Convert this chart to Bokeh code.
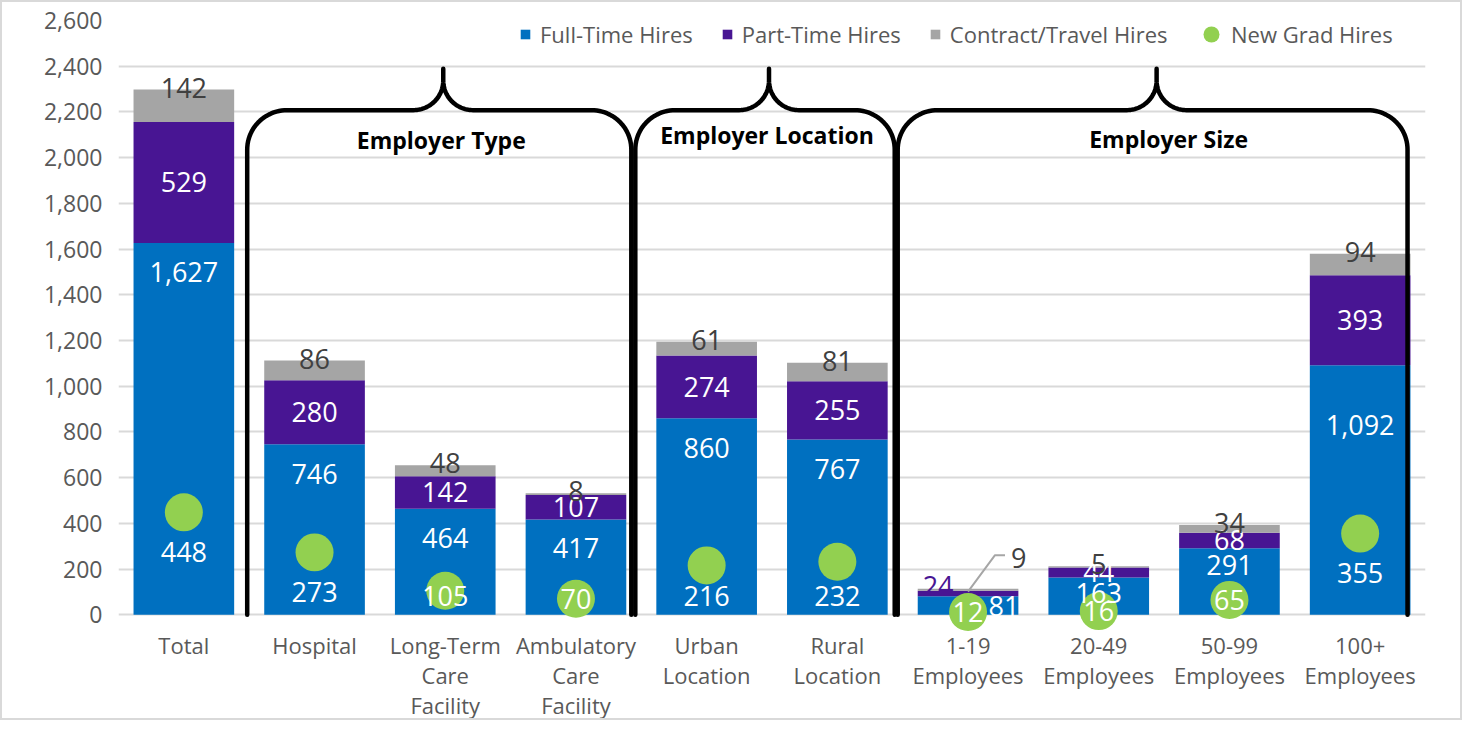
import numpy as np
from bokeh.plotting import figure
from bokeh.models import (ColumnDataSource, Range1d, FixedTicker, NumeralTickFormatter,
                          Legend, LegendItem)
from bokeh.core.properties import value
from bokeh.embed import file_html
from bokeh.resources import INLINE

# ---------------- data ----------------
categories = ["Total", "Hospital", "Long-Term\nCare\nFacility", "Ambulatory\nCare\nFacility",
              "Urban\nLocation", "Rural\nLocation", "1-19\nEmployees", "20-49\nEmployees",
              "50-99\nEmployees", "100+\nEmployees"]
full_time = [1627, 746, 464, 417, 860, 767, 81, 163, 291, 1092]
part_time = [529, 280, 142, 107, 274, 255, 24, 44, 68, 393]
contract = [142, 86, 48, 8, 61, 81, 9, 5, 34, 94]
new_grad = [448, 273, 105, 70, 216, 232, 12, 16, 65, 355]
series_names = ["Full-Time Hires", "Part-Time Hires", "Contract/Travel Hires", "New Grad Hires"]
group_names = ["Employer Type", "Employer Location", "Employer Size"]
group_spans = [(1, 4), (4, 6), (6, 10)]
y_ticks = list(range(0, 2601, 200))

# ---------------- style / layout ----------------
FONT = "Open Sans"
BLUE, PURPLE, GRAY, GREEN = "#0070C0", "#481593", "#A5A5A5", "#92D050"
AXIS_TXT, LBL_DARK, GRID = "#595959", "#404040", "#D9D9D9"

W, H, BORDER = 1462, 720, 2
CW, CH = W - 2 * BORDER, H - 2 * BORDER
FRAME_L, FRAME_T, FRAME_W = 116, 18, 1303
Y0, Y1 = -82, 2600
FRAME_H = round(594 * (Y1 - Y0) / Y1)
N = len(categories)

# reference-picture pixel scale, used for decoration offsets (in data units)
REF_L, REF_PXX, REF_ZERO, REF_PXY = 123, 130.9, 622, 603 / 2600


def dx(px):
    return px / REF_PXX


def dy(px):
    return px / REF_PXY


def X(px):
    return (px - REF_L) / REF_PXX


def Y(py):
    return (REF_ZERO - py) / REF_PXY


# per-bar label layout tweaks (pixels)
ft_drop_px = [30, 30, 30, 29, 30, 30, 10, 16, 17, 61]
ft_dx_px = [0, 0, 0, 0, 0, 0, 36, 0, 0, 0]
SPECIAL = 6  # the 1-19 bar, labelled outside

x = [i + 0.5 for i in range(N)]
ft = np.array(full_time, dtype=float)
pt = np.array(part_time, dtype=float)
ct = np.array(contract, dtype=float)
ng = np.array(new_grad, dtype=float)
ftpt = ft + pt
tot = ftpt + ct

src = ColumnDataSource(dict(x=x, ft=ft, ftpt=ftpt, tot=tot, ng=ng))

p = figure(width=W, height=H, x_range=Range1d(0, N), y_range=Range1d(Y0, Y1),
           output_backend="svg", toolbar_location=None,
           min_border_left=FRAME_L, min_border_top=FRAME_T,
           min_border_right=CW - FRAME_L - FRAME_W, min_border_bottom=CH - FRAME_T - FRAME_H)
p.styles = {"border": f"{BORDER}px solid #D9D9D9"}
p.outline_line_color = None
p.background_fill_color = "white"
p.border_fill_color = "white"

# axes
p.yaxis.ticker = FixedTicker(ticks=y_ticks)
p.yaxis.formatter = NumeralTickFormatter(format="0,0")
p.yaxis.axis_line_color = None
p.yaxis.major_tick_line_color = None
p.yaxis.minor_tick_line_color = None
p.yaxis.major_label_text_font = FONT
p.yaxis.major_label_text_font_size = "23px"
p.yaxis.major_label_text_color = AXIS_TXT
p.yaxis.major_label_standoff = 10

p.xaxis.ticker = FixedTicker(ticks=x)
p.xaxis.major_label_overrides = {xi: c for xi, c in zip(x, categories)}
p.xaxis.axis_line_color = None
p.xaxis.major_tick_line_color = None
p.xaxis.minor_tick_line_color = None
p.xaxis.major_label_text_font = FONT
p.xaxis.major_label_text_font_size = "22px"
p.xaxis.major_label_text_color = AXIS_TXT
p.xaxis.major_label_text_line_height = 1.0
p.xaxis.major_label_standoff = -10

p.xgrid.grid_line_color = None
p.ygrid.grid_line_color = GRID
p.ygrid.grid_line_width = 2

# bars
BW = 0.77
r_ft = p.vbar(x="x", bottom=0, top="ft", width=BW, fill_color=BLUE, line_color=None, source=src)
r_pt = p.vbar(x="x", bottom="ft", top="ftpt", width=BW, fill_color=PURPLE, line_color=None, source=src)
r_ct = p.vbar(x="x", bottom="ftpt", top="tot", width=BW, fill_color=GRAY, line_color=None, source=src)
r_ng = p.scatter(x="x", y="ng", size=38, fill_color=GREEN, line_color=None, source=src)

# braces
brace_insets = [(-2, -10), (-6, -8), (-5, -18)]
title_dx = [2, 2, 16]
title_y = [140, 135, 139]
for (g0, g1), (il, ir), tdx, ty, name in zip(group_spans, brace_insets, title_dx, title_y, group_names):
    xl = REF_L + g0 * REF_PXX + il
    xr = REF_L + g1 * REF_PXX + ir
    xp = (xl + xr) / 2 + 4
    t = np.linspace(0, np.pi / 2, 24)
    R, r = 40, 30
    hy, py_, bot, vy = 110, 68, REF_ZERO, 150
    left_corner = [(xl + R - R * np.cos(a), vy - R * np.sin(a)) for a in t]
    left_curl = [(xp - r + r * np.sin(a), hy - r + r * np.cos(a)) for a in t]
    right_curl = [(xp + r - r * np.sin(a), hy - r + r * np.cos(a)) for a in t[::-1]]
    right_corner = [(xr - R + R * np.cos(a), vy - R * np.sin(a)) for a in t[::-1]]
    pts = [(xl, bot)] + left_corner + left_curl + [(xp, py_)] + right_curl + right_corner + [(xr, bot)]
    p.line([X(a) for a, b in pts], [Y(b) for a, b in pts], line_color="black",
           line_width=4.5, line_join="round", line_cap="round")
    p.text(x=[X((xl + xr) / 2 + tdx)], y=[Y(ty)], text=[name], text_font=value(FONT),
           text_font_style="bold", text_font_size="23px", text_color="black",
           text_align="center", text_baseline="middle")

# labels
fmt = lambda v: f"{int(v):,}"
idx = [i for i in range(N) if i != SPECIAL]
LBL = "27px"

# full-time labels
p.text(x=[x[i] + dx(ft_dx_px[i]) for i in range(N)],
       y=[ft[i] - dy(ft_drop_px[i]) for i in range(N)],
       text=[fmt(v) for v in ft], text_font=value(FONT), text_font_size=LBL,
       text_color="white", text_align="center", text_baseline="middle")

# part-time labels
p.text(x=[x[i] for i in idx], y=[ft[i] + pt[i] / 2 for i in idx],
       text=[fmt(pt[i]) for i in idx], text_font=value(FONT), text_font_size=LBL,
       text_color="white", text_align="center", text_baseline="middle")
p.text(x=[x[SPECIAL] - dx(30)], y=[ftpt[SPECIAL] + dy(5)], text=[fmt(pt[SPECIAL])],
       text_font=value(FONT), text_font_size=LBL, text_color=PURPLE,
       text_align="center", text_baseline="alphabetic")

# contract labels
p.text(x=[x[i] for i in idx], y=[tot[i] + dy(2) for i in idx],
       text=[fmt(ct[i]) for i in idx], text_font=value(FONT), text_font_size=LBL,
       text_color=LBL_DARK, text_align="center", text_baseline="alphabetic")
sx0, sy0 = x[SPECIAL], tot[SPECIAL] - dy(3)
ex, ey = sx0 + dx(27), sy0 + dy(37)
p.line([sx0, ex, ex + dx(10)], [sy0, ey, ey], line_color="#A6A6A6", line_width=2)
p.text(x=[ex + dx(16)], y=[ey - dy(3)], text=[fmt(ct[SPECIAL])], text_font=value(FONT),
       text_font_size=LBL, text_color=LBL_DARK, text_align="left", text_baseline="middle")

# new grad labels
ng_lbl_y = [max(v - dy(40), min(v, dy(19))) for v in ng]
p.text(x=x, y=ng_lbl_y, text=[fmt(v) for v in ng], text_font=value(FONT),
       text_font_size=LBL, text_color="white", text_align="center", text_baseline="middle")

# legends (location = lower-left corner, in px from the frame's lower-left corner)
leg1 = Legend(items=[LegendItem(label=series_names[0], renderers=[r_ft]),
                     LegendItem(label=series_names[1], renderers=[r_pt]),
                     LegendItem(label=series_names[2], renderers=[r_ct])],
              orientation="horizontal", location=(401, FRAME_H - 29),
              glyph_width=12, glyph_height=12, label_standoff=9, spacing=28,
              padding=0, margin=0, border_line_color=None, background_fill_alpha=0,
              label_text_font=FONT, label_text_font_size="22px", label_text_color=AXIS_TXT)
leg2 = Legend(items=[LegendItem(label=series_names[3], renderers=[r_ng])],
              orientation="horizontal", location=(1073, FRAME_H - 34),
              glyph_width=40, glyph_height=40, label_standoff=0, spacing=0,
              padding=0, margin=0, border_line_color=None, background_fill_alpha=0,
              label_text_font=FONT, label_text_font_size="22px", label_text_color=AXIS_TXT)
p.add_layout(leg1)
p.add_layout(leg2)

open("out.html", "w").write(file_html(p, INLINE))
